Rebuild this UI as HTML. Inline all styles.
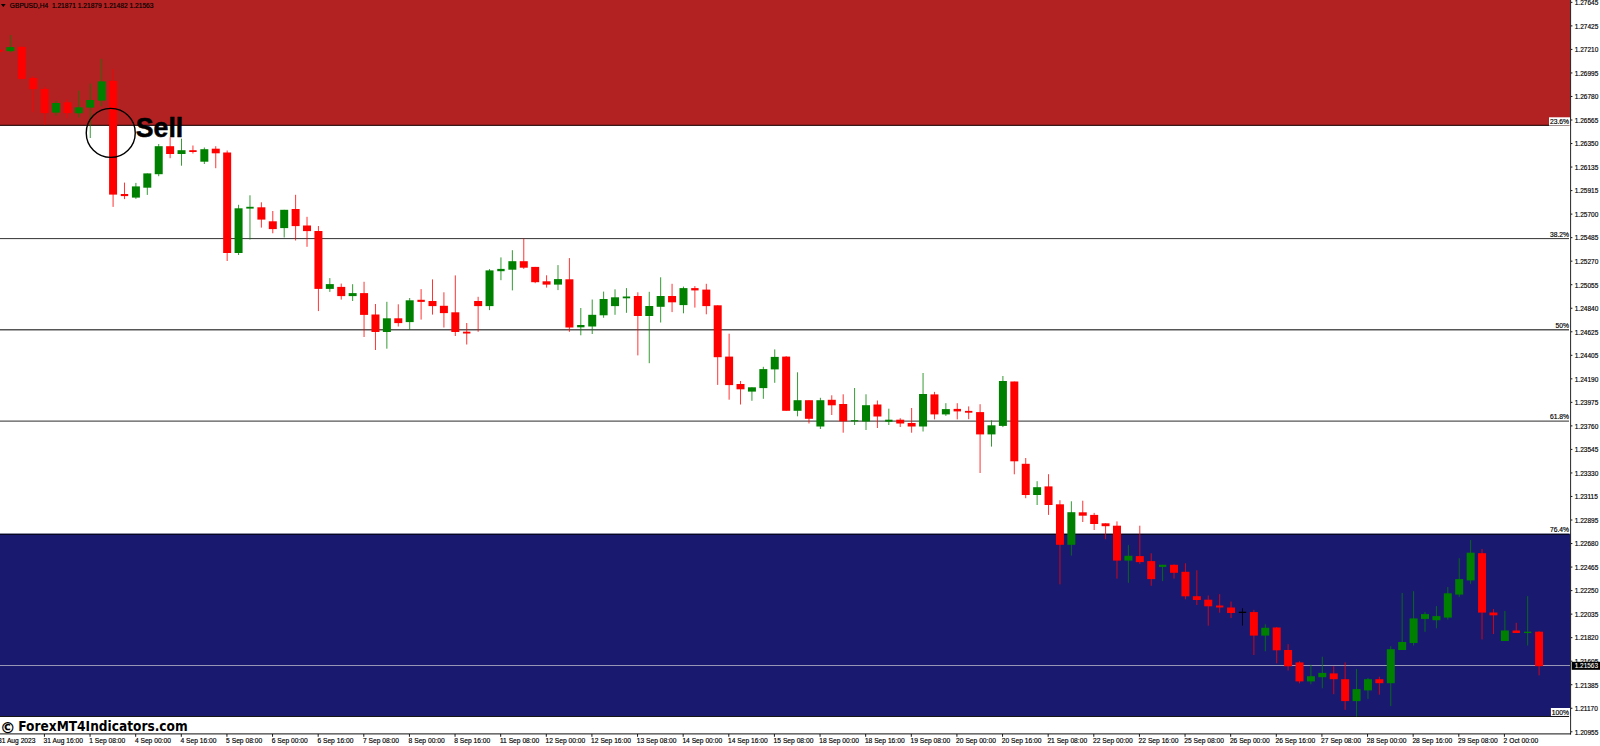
<!DOCTYPE html><html><head><meta charset="utf-8"><title>GBPUSD H4 Fibonacci Sell</title>
<style>html,body{margin:0;padding:0;background:#fff;overflow:hidden}body{width:1600px;height:746px;position:relative;font-family:"Liberation Sans",sans-serif}svg{display:block;position:absolute;left:0;top:0}text{font-family:"Liberation Sans",sans-serif}</style></head><body>
<svg width="1600" height="746" viewBox="0 0 1600 746">
<rect x="0" y="0" width="1600" height="746" fill="#fff"/>
<rect x="0" y="0" width="1570.3" height="125.7" fill="#b22222"/>
<rect x="0" y="533.7" width="1570.3" height="182.4" fill="#191970"/>
<line x1="0" y1="125.35" x2="1569" y2="125.35" stroke="#000" stroke-width="1.1" opacity="0.72"/>
<line x1="0" y1="238.6" x2="1569" y2="238.6" stroke="#000" stroke-width="1.0" opacity="0.8"/>
<line x1="0" y1="329.8" x2="1569" y2="329.8" stroke="#000" stroke-width="1.4" opacity="0.66"/>
<line x1="0" y1="421.15" x2="1569" y2="421.15" stroke="#000" stroke-width="1.4" opacity="0.66"/>
<line x1="0" y1="534.2" x2="1569" y2="534.2" stroke="#000" stroke-width="1.1" opacity="0.9"/>
<line x1="0" y1="716.45" x2="1569" y2="716.45" stroke="#000" stroke-width="1.1" opacity="0.9"/>
<line x1="0" y1="665.5" x2="1570.5" y2="665.5" stroke="#9e9eb8" stroke-width="0.95"/>
<line x1="-1.00" y1="49.7" x2="-1.00" y2="51.7" stroke="#ff0000" stroke-width="0.8"/>
<rect x="-4.70" y="49.7" width="7.4" height="2.00" fill="#ff0000"/>
<line x1="10.41" y1="35.1" x2="10.41" y2="52.4" stroke="#008000" stroke-width="0.8"/>
<rect x="6.41" y="47.1" width="8.0" height="4.10" fill="#008000"/>
<line x1="21.82" y1="46.1" x2="21.82" y2="79.5" stroke="#ff0000" stroke-width="0.8"/>
<rect x="17.82" y="46.9" width="8.0" height="32.00" fill="#ff0000"/>
<line x1="33.22" y1="76" x2="33.22" y2="112.1" stroke="#ff0000" stroke-width="0.8"/>
<rect x="29.22" y="77.9" width="8.0" height="11.30" fill="#ff0000"/>
<line x1="44.63" y1="86.9" x2="44.63" y2="124.6" stroke="#ff0000" stroke-width="0.8"/>
<rect x="40.63" y="88.9" width="8.0" height="24.20" fill="#ff0000"/>
<line x1="56.04" y1="100.8" x2="56.04" y2="115.8" stroke="#008000" stroke-width="0.8"/>
<rect x="52.04" y="103" width="8.0" height="9.60" fill="#008000"/>
<line x1="67.45" y1="99.3" x2="67.45" y2="118.1" stroke="#ff0000" stroke-width="0.8"/>
<rect x="63.45" y="102.3" width="8.0" height="10.80" fill="#ff0000"/>
<line x1="78.86" y1="90.6" x2="78.86" y2="117.6" stroke="#008000" stroke-width="0.8"/>
<rect x="74.86" y="107.3" width="8.0" height="6.00" fill="#008000"/>
<line x1="90.26" y1="83.6" x2="90.26" y2="138.0" stroke="#008000" stroke-width="0.8"/>
<rect x="86.26" y="100" width="8.0" height="7.60" fill="#008000"/>
<line x1="101.67" y1="58.7" x2="101.67" y2="106.3" stroke="#008000" stroke-width="0.8"/>
<rect x="97.67" y="81.4" width="8.0" height="19.20" fill="#008000"/>
<line x1="113.08" y1="69" x2="113.08" y2="206.9" stroke="#ff0000" stroke-width="0.8"/>
<rect x="109.08" y="80.9" width="8.0" height="113.70" fill="#ff0000"/>
<line x1="124.49" y1="182.6" x2="124.49" y2="199.1" stroke="#ff0000" stroke-width="0.8"/>
<rect x="120.79" y="194" width="7.4" height="2.10" fill="#ff0000"/>
<line x1="135.90" y1="182.9" x2="135.90" y2="198.9" stroke="#008000" stroke-width="0.8"/>
<rect x="131.90" y="186.4" width="8.0" height="11.20" fill="#008000"/>
<line x1="147.30" y1="173.4" x2="147.30" y2="194.9" stroke="#008000" stroke-width="0.8"/>
<rect x="143.30" y="173.4" width="8.0" height="14.30" fill="#008000"/>
<line x1="158.71" y1="144" x2="158.71" y2="176.2" stroke="#008000" stroke-width="0.8"/>
<rect x="154.71" y="146.2" width="8.0" height="28.00" fill="#008000"/>
<line x1="170.12" y1="137.2" x2="170.12" y2="158.2" stroke="#ff0000" stroke-width="0.8"/>
<rect x="166.12" y="146.2" width="8.0" height="7.80" fill="#ff0000"/>
<line x1="181.53" y1="138.7" x2="181.53" y2="165.7" stroke="#008000" stroke-width="0.8"/>
<rect x="177.53" y="150.2" width="8.0" height="3.80" fill="#008000"/>
<line x1="192.94" y1="145.5" x2="192.94" y2="153.5" stroke="#ff0000" stroke-width="0.8"/>
<rect x="189.24" y="150.2" width="7.4" height="1.80" fill="#ff0000"/>
<line x1="204.34" y1="147.5" x2="204.34" y2="164.0" stroke="#008000" stroke-width="0.8"/>
<rect x="200.34" y="149.2" width="8.0" height="12.50" fill="#008000"/>
<line x1="215.75" y1="146.2" x2="215.75" y2="168.2" stroke="#ff0000" stroke-width="0.8"/>
<rect x="211.75" y="148.7" width="8.0" height="4.60" fill="#ff0000"/>
<line x1="227.16" y1="150.5" x2="227.16" y2="261.0" stroke="#ff0000" stroke-width="0.8"/>
<rect x="223.16" y="152.5" width="8.0" height="100.50" fill="#ff0000"/>
<line x1="238.57" y1="204.8" x2="238.57" y2="255.0" stroke="#008000" stroke-width="0.8"/>
<rect x="234.57" y="208.3" width="8.0" height="44.70" fill="#008000"/>
<line x1="249.98" y1="195.3" x2="249.98" y2="239.5" stroke="#008000" stroke-width="0.8"/>
<rect x="246.28" y="206.8" width="7.4" height="1.80" fill="#008000"/>
<line x1="261.38" y1="202.3" x2="261.38" y2="227.6" stroke="#ff0000" stroke-width="0.8"/>
<rect x="257.38" y="207.3" width="8.0" height="12.30" fill="#ff0000"/>
<line x1="272.79" y1="211" x2="272.79" y2="233.3" stroke="#ff0000" stroke-width="0.8"/>
<rect x="268.79" y="221.3" width="8.0" height="7.80" fill="#ff0000"/>
<line x1="284.20" y1="209.8" x2="284.20" y2="237.5" stroke="#008000" stroke-width="0.8"/>
<rect x="280.20" y="209.8" width="8.0" height="18.30" fill="#008000"/>
<line x1="295.61" y1="194.8" x2="295.61" y2="240.5" stroke="#ff0000" stroke-width="0.8"/>
<rect x="291.61" y="209" width="8.0" height="17.10" fill="#ff0000"/>
<line x1="307.02" y1="216.8" x2="307.02" y2="246.8" stroke="#ff0000" stroke-width="0.8"/>
<rect x="303.02" y="225.5" width="8.0" height="5.60" fill="#ff0000"/>
<line x1="318.42" y1="226" x2="318.42" y2="311.1" stroke="#ff0000" stroke-width="0.8"/>
<rect x="314.42" y="231" width="8.0" height="57.90" fill="#ff0000"/>
<line x1="329.83" y1="278.1" x2="329.83" y2="291.9" stroke="#008000" stroke-width="0.8"/>
<rect x="325.83" y="284.1" width="8.0" height="4.80" fill="#008000"/>
<line x1="341.24" y1="283.6" x2="341.24" y2="299.6" stroke="#ff0000" stroke-width="0.8"/>
<rect x="337.24" y="286.9" width="8.0" height="9.20" fill="#ff0000"/>
<line x1="352.65" y1="284.2" x2="352.65" y2="301.0" stroke="#008000" stroke-width="0.8"/>
<rect x="348.65" y="293.1" width="8.0" height="3.00" fill="#008000"/>
<line x1="364.06" y1="281.8" x2="364.06" y2="337.0" stroke="#ff0000" stroke-width="0.8"/>
<rect x="360.06" y="293.1" width="8.0" height="21.80" fill="#ff0000"/>
<line x1="375.46" y1="304" x2="375.46" y2="350.0" stroke="#ff0000" stroke-width="0.8"/>
<rect x="371.46" y="314.5" width="8.0" height="17.50" fill="#ff0000"/>
<line x1="386.87" y1="301.8" x2="386.87" y2="348.7" stroke="#008000" stroke-width="0.8"/>
<rect x="382.87" y="318.3" width="8.0" height="13.70" fill="#008000"/>
<line x1="398.28" y1="304.3" x2="398.28" y2="326.5" stroke="#ff0000" stroke-width="0.8"/>
<rect x="394.28" y="318.3" width="8.0" height="4.80" fill="#ff0000"/>
<line x1="409.69" y1="298" x2="409.69" y2="330.0" stroke="#008000" stroke-width="0.8"/>
<rect x="405.69" y="300.3" width="8.0" height="21.80" fill="#008000"/>
<line x1="421.10" y1="289.1" x2="421.10" y2="319.6" stroke="#ff0000" stroke-width="0.8"/>
<rect x="417.40" y="299.8" width="7.4" height="2.10" fill="#ff0000"/>
<line x1="432.50" y1="279.4" x2="432.50" y2="314.6" stroke="#ff0000" stroke-width="0.8"/>
<rect x="428.50" y="301" width="8.0" height="5.10" fill="#ff0000"/>
<line x1="443.91" y1="292.3" x2="443.91" y2="327.5" stroke="#ff0000" stroke-width="0.8"/>
<rect x="439.91" y="305.8" width="8.0" height="7.30" fill="#ff0000"/>
<line x1="455.32" y1="275.4" x2="455.32" y2="336.0" stroke="#ff0000" stroke-width="0.8"/>
<rect x="451.32" y="312.3" width="8.0" height="19.70" fill="#ff0000"/>
<line x1="466.73" y1="323" x2="466.73" y2="344.5" stroke="#ff0000" stroke-width="0.8"/>
<rect x="463.03" y="331.7" width="7.4" height="1.80" fill="#ff0000"/>
<line x1="478.14" y1="296.8" x2="478.14" y2="331.8" stroke="#ff0000" stroke-width="0.8"/>
<rect x="474.14" y="301" width="8.0" height="5.10" fill="#ff0000"/>
<line x1="489.54" y1="269.1" x2="489.54" y2="310.1" stroke="#008000" stroke-width="0.8"/>
<rect x="485.54" y="270.4" width="8.0" height="35.70" fill="#008000"/>
<line x1="500.95" y1="257.4" x2="500.95" y2="280.2" stroke="#008000" stroke-width="0.8"/>
<rect x="497.25" y="268.9" width="7.4" height="2.30" fill="#008000"/>
<line x1="512.36" y1="250.2" x2="512.36" y2="290.4" stroke="#008000" stroke-width="0.8"/>
<rect x="508.36" y="261.2" width="8.0" height="8.50" fill="#008000"/>
<line x1="523.77" y1="238.5" x2="523.77" y2="268.9" stroke="#ff0000" stroke-width="0.8"/>
<rect x="519.77" y="261.2" width="8.0" height="6.50" fill="#ff0000"/>
<line x1="535.18" y1="266.9" x2="535.18" y2="283.2" stroke="#ff0000" stroke-width="0.8"/>
<rect x="531.18" y="266.9" width="8.0" height="15.30" fill="#ff0000"/>
<line x1="546.58" y1="275.3" x2="546.58" y2="287.6" stroke="#ff0000" stroke-width="0.8"/>
<rect x="542.58" y="281.3" width="8.0" height="3.30" fill="#ff0000"/>
<line x1="557.99" y1="265.1" x2="557.99" y2="290.1" stroke="#008000" stroke-width="0.8"/>
<rect x="553.99" y="279.1" width="8.0" height="5.50" fill="#008000"/>
<line x1="569.40" y1="258.1" x2="569.40" y2="331.8" stroke="#ff0000" stroke-width="0.8"/>
<rect x="565.40" y="279.3" width="8.0" height="48.20" fill="#ff0000"/>
<line x1="580.81" y1="308" x2="580.81" y2="335.3" stroke="#008000" stroke-width="0.8"/>
<rect x="577.11" y="325" width="7.4" height="2.30" fill="#008000"/>
<line x1="592.22" y1="299.5" x2="592.22" y2="334.0" stroke="#008000" stroke-width="0.8"/>
<rect x="588.22" y="314.8" width="8.0" height="11.70" fill="#008000"/>
<line x1="603.62" y1="291.6" x2="603.62" y2="317.8" stroke="#008000" stroke-width="0.8"/>
<rect x="599.62" y="299" width="8.0" height="16.30" fill="#008000"/>
<line x1="615.03" y1="289.3" x2="615.03" y2="314.8" stroke="#008000" stroke-width="0.8"/>
<rect x="611.03" y="297.3" width="8.0" height="8.80" fill="#008000"/>
<line x1="626.44" y1="288.1" x2="626.44" y2="312.8" stroke="#008000" stroke-width="0.8"/>
<rect x="622.74" y="296.5" width="7.4" height="1.80" fill="#008000"/>
<line x1="637.85" y1="292.3" x2="637.85" y2="355.4" stroke="#ff0000" stroke-width="0.8"/>
<rect x="633.85" y="296" width="8.0" height="20.00" fill="#ff0000"/>
<line x1="649.26" y1="291.8" x2="649.26" y2="363.2" stroke="#008000" stroke-width="0.8"/>
<rect x="645.26" y="306" width="8.0" height="10.00" fill="#008000"/>
<line x1="660.66" y1="277.3" x2="660.66" y2="322.5" stroke="#008000" stroke-width="0.8"/>
<rect x="656.66" y="296" width="8.0" height="10.80" fill="#008000"/>
<line x1="672.07" y1="283.8" x2="672.07" y2="312.1" stroke="#ff0000" stroke-width="0.8"/>
<rect x="668.07" y="296" width="8.0" height="6.30" fill="#ff0000"/>
<line x1="683.48" y1="286.6" x2="683.48" y2="313.3" stroke="#008000" stroke-width="0.8"/>
<rect x="679.48" y="288.1" width="8.0" height="17.00" fill="#008000"/>
<line x1="694.89" y1="286.1" x2="694.89" y2="307.6" stroke="#ff0000" stroke-width="0.8"/>
<rect x="691.19" y="288.1" width="7.4" height="2.30" fill="#ff0000"/>
<line x1="706.30" y1="283.8" x2="706.30" y2="314.3" stroke="#ff0000" stroke-width="0.8"/>
<rect x="702.30" y="289.6" width="8.0" height="16.50" fill="#ff0000"/>
<line x1="717.70" y1="305.3" x2="717.70" y2="384.9" stroke="#ff0000" stroke-width="0.8"/>
<rect x="713.70" y="305.3" width="8.0" height="51.90" fill="#ff0000"/>
<line x1="729.11" y1="333.7" x2="729.11" y2="399.7" stroke="#ff0000" stroke-width="0.8"/>
<rect x="725.11" y="356.6" width="8.0" height="28.50" fill="#ff0000"/>
<line x1="740.52" y1="381" x2="740.52" y2="404.5" stroke="#ff0000" stroke-width="0.8"/>
<rect x="736.52" y="384" width="8.0" height="5.30" fill="#ff0000"/>
<line x1="751.93" y1="387.3" x2="751.93" y2="400.8" stroke="#008000" stroke-width="0.8"/>
<rect x="747.93" y="387.3" width="8.0" height="4.30" fill="#008000"/>
<line x1="763.34" y1="366.8" x2="763.34" y2="398.8" stroke="#008000" stroke-width="0.8"/>
<rect x="759.34" y="369.1" width="8.0" height="19.00" fill="#008000"/>
<line x1="774.74" y1="349.4" x2="774.74" y2="382.8" stroke="#008000" stroke-width="0.8"/>
<rect x="770.74" y="356.9" width="8.0" height="12.50" fill="#008000"/>
<line x1="786.15" y1="356.1" x2="786.15" y2="410.8" stroke="#ff0000" stroke-width="0.8"/>
<rect x="782.15" y="356.6" width="8.0" height="54.20" fill="#ff0000"/>
<line x1="797.56" y1="372.3" x2="797.56" y2="416.3" stroke="#008000" stroke-width="0.8"/>
<rect x="793.56" y="400.2" width="8.0" height="10.60" fill="#008000"/>
<line x1="808.97" y1="400.2" x2="808.97" y2="423.5" stroke="#ff0000" stroke-width="0.8"/>
<rect x="804.97" y="400.2" width="8.0" height="18.60" fill="#ff0000"/>
<line x1="820.38" y1="397.8" x2="820.38" y2="429.0" stroke="#008000" stroke-width="0.8"/>
<rect x="816.38" y="400.2" width="8.0" height="26.30" fill="#008000"/>
<line x1="831.78" y1="395.3" x2="831.78" y2="415.0" stroke="#ff0000" stroke-width="0.8"/>
<rect x="827.78" y="399.8" width="8.0" height="5.50" fill="#ff0000"/>
<line x1="843.19" y1="394.3" x2="843.19" y2="432.7" stroke="#ff0000" stroke-width="0.8"/>
<rect x="839.19" y="404" width="8.0" height="17.30" fill="#ff0000"/>
<line x1="854.60" y1="388" x2="854.60" y2="425.0" stroke="#008000" stroke-width="0.8"/>
<rect x="850.90" y="420.2" width="7.4" height="1.20" fill="#008000"/>
<line x1="866.01" y1="394.3" x2="866.01" y2="430.0" stroke="#008000" stroke-width="0.8"/>
<rect x="862.01" y="405.2" width="8.0" height="16.30" fill="#008000"/>
<line x1="877.42" y1="400.5" x2="877.42" y2="428.0" stroke="#ff0000" stroke-width="0.8"/>
<rect x="873.42" y="404.5" width="8.0" height="12.00" fill="#ff0000"/>
<line x1="888.82" y1="408.7" x2="888.82" y2="425.0" stroke="#008000" stroke-width="0.8"/>
<rect x="885.12" y="419.7" width="7.4" height="2.00" fill="#008000"/>
<line x1="900.23" y1="418.2" x2="900.23" y2="427.0" stroke="#ff0000" stroke-width="0.8"/>
<rect x="896.23" y="419.7" width="8.0" height="3.80" fill="#ff0000"/>
<line x1="911.64" y1="408" x2="911.64" y2="432.7" stroke="#ff0000" stroke-width="0.8"/>
<rect x="907.64" y="423" width="8.0" height="3.50" fill="#ff0000"/>
<line x1="923.05" y1="373" x2="923.05" y2="431.5" stroke="#008000" stroke-width="0.8"/>
<rect x="919.05" y="394" width="8.0" height="32.50" fill="#008000"/>
<line x1="934.46" y1="391.9" x2="934.46" y2="419.4" stroke="#ff0000" stroke-width="0.8"/>
<rect x="930.46" y="394.4" width="8.0" height="20.00" fill="#ff0000"/>
<line x1="945.86" y1="403.2" x2="945.86" y2="415.9" stroke="#008000" stroke-width="0.8"/>
<rect x="941.86" y="409.1" width="8.0" height="5.30" fill="#008000"/>
<line x1="957.27" y1="403.2" x2="957.27" y2="419.4" stroke="#ff0000" stroke-width="0.8"/>
<rect x="953.57" y="408.9" width="7.4" height="2.50" fill="#ff0000"/>
<line x1="968.68" y1="406.4" x2="968.68" y2="419.2" stroke="#ff0000" stroke-width="0.8"/>
<rect x="964.98" y="410.9" width="7.4" height="1.80" fill="#ff0000"/>
<line x1="980.09" y1="404.2" x2="980.09" y2="473.0" stroke="#ff0000" stroke-width="0.8"/>
<rect x="976.09" y="412.1" width="8.0" height="22.30" fill="#ff0000"/>
<line x1="991.50" y1="420.4" x2="991.50" y2="446.6" stroke="#008000" stroke-width="0.8"/>
<rect x="987.50" y="425.3" width="8.0" height="9.10" fill="#008000"/>
<line x1="1002.90" y1="376" x2="1002.90" y2="427.1" stroke="#008000" stroke-width="0.8"/>
<rect x="998.90" y="381" width="8.0" height="44.90" fill="#008000"/>
<line x1="1014.31" y1="381.5" x2="1014.31" y2="474.3" stroke="#ff0000" stroke-width="0.8"/>
<rect x="1010.31" y="381.5" width="8.0" height="79.80" fill="#ff0000"/>
<line x1="1025.72" y1="458" x2="1025.72" y2="498.2" stroke="#ff0000" stroke-width="0.8"/>
<rect x="1021.72" y="463.8" width="8.0" height="31.20" fill="#ff0000"/>
<line x1="1037.13" y1="481.2" x2="1037.13" y2="505.0" stroke="#008000" stroke-width="0.8"/>
<rect x="1033.13" y="487.2" width="8.0" height="7.80" fill="#008000"/>
<line x1="1048.54" y1="474.2" x2="1048.54" y2="514.9" stroke="#ff0000" stroke-width="0.8"/>
<rect x="1044.54" y="486.4" width="8.0" height="18.60" fill="#ff0000"/>
<line x1="1059.94" y1="500.2" x2="1059.94" y2="584.3" stroke="#ff0000" stroke-width="0.8"/>
<rect x="1055.94" y="504.3" width="8.0" height="40.50" fill="#ff0000"/>
<line x1="1071.35" y1="501.3" x2="1071.35" y2="555.6" stroke="#008000" stroke-width="0.8"/>
<rect x="1067.35" y="512.2" width="8.0" height="32.60" fill="#008000"/>
<line x1="1082.76" y1="500.7" x2="1082.76" y2="522.0" stroke="#ff0000" stroke-width="0.8"/>
<rect x="1078.76" y="512.3" width="8.0" height="3.40" fill="#ff0000"/>
<line x1="1094.17" y1="512.9" x2="1094.17" y2="530.0" stroke="#ff0000" stroke-width="0.8"/>
<rect x="1090.17" y="514.9" width="8.0" height="9.10" fill="#ff0000"/>
<line x1="1105.58" y1="523.3" x2="1105.58" y2="539.2" stroke="#ff0000" stroke-width="0.8"/>
<rect x="1101.58" y="523.3" width="8.0" height="2.90" fill="#ff0000"/>
<line x1="1116.98" y1="521.4" x2="1116.98" y2="578.6" stroke="#ff0000" stroke-width="0.8"/>
<rect x="1112.98" y="525.7" width="8.0" height="34.90" fill="#ff0000"/>
<line x1="1128.39" y1="545.1" x2="1128.39" y2="582.8" stroke="#008000" stroke-width="0.8"/>
<rect x="1124.39" y="555.8" width="8.0" height="4.80" fill="#008000"/>
<line x1="1139.80" y1="525.7" x2="1139.80" y2="563.9" stroke="#ff0000" stroke-width="0.8"/>
<rect x="1135.80" y="556.1" width="8.0" height="6.00" fill="#ff0000"/>
<line x1="1151.21" y1="553.3" x2="1151.21" y2="585.8" stroke="#ff0000" stroke-width="0.8"/>
<rect x="1147.21" y="561.1" width="8.0" height="18.00" fill="#ff0000"/>
<line x1="1162.62" y1="564.8" x2="1162.62" y2="581.1" stroke="#008000" stroke-width="0.8"/>
<rect x="1158.92" y="564.8" width="7.4" height="2.10" fill="#008000"/>
<line x1="1174.02" y1="564.3" x2="1174.02" y2="578.6" stroke="#ff0000" stroke-width="0.8"/>
<rect x="1170.02" y="564.8" width="8.0" height="8.00" fill="#ff0000"/>
<line x1="1185.43" y1="563.3" x2="1185.43" y2="599.3" stroke="#ff0000" stroke-width="0.8"/>
<rect x="1181.43" y="571.8" width="8.0" height="24.50" fill="#ff0000"/>
<line x1="1196.84" y1="570.3" x2="1196.84" y2="605.0" stroke="#ff0000" stroke-width="0.8"/>
<rect x="1192.84" y="596.2" width="8.0" height="3.80" fill="#ff0000"/>
<line x1="1208.25" y1="595.5" x2="1208.25" y2="625.7" stroke="#ff0000" stroke-width="0.8"/>
<rect x="1204.25" y="599.7" width="8.0" height="6.60" fill="#ff0000"/>
<line x1="1219.66" y1="594.2" x2="1219.66" y2="612.7" stroke="#ff0000" stroke-width="0.8"/>
<rect x="1215.96" y="605.5" width="7.4" height="2.00" fill="#ff0000"/>
<line x1="1231.06" y1="601.5" x2="1231.06" y2="618.0" stroke="#ff0000" stroke-width="0.8"/>
<rect x="1227.06" y="607.5" width="8.0" height="5.50" fill="#ff0000"/>
<line x1="1242.47" y1="608.2" x2="1242.47" y2="625.7" stroke="#000" stroke-width="0.8"/>
<rect x="1238.77" y="611.7" width="7.4" height="1.30" fill="#000"/>
<line x1="1253.88" y1="609.8" x2="1253.88" y2="655.0" stroke="#ff0000" stroke-width="0.8"/>
<rect x="1249.88" y="612.1" width="8.0" height="23.50" fill="#ff0000"/>
<line x1="1265.29" y1="624.3" x2="1265.29" y2="651.3" stroke="#008000" stroke-width="0.8"/>
<rect x="1261.29" y="627.8" width="8.0" height="7.80" fill="#008000"/>
<line x1="1276.70" y1="627" x2="1276.70" y2="663.3" stroke="#ff0000" stroke-width="0.8"/>
<rect x="1272.70" y="627.5" width="8.0" height="22.80" fill="#ff0000"/>
<line x1="1288.10" y1="644.2" x2="1288.10" y2="670.5" stroke="#ff0000" stroke-width="0.8"/>
<rect x="1284.10" y="650" width="8.0" height="16.30" fill="#ff0000"/>
<line x1="1299.51" y1="661.2" x2="1299.51" y2="683.4" stroke="#ff0000" stroke-width="0.8"/>
<rect x="1295.51" y="662.4" width="8.0" height="19.00" fill="#ff0000"/>
<line x1="1310.92" y1="664.7" x2="1310.92" y2="684.2" stroke="#008000" stroke-width="0.8"/>
<rect x="1306.92" y="676.2" width="8.0" height="5.20" fill="#008000"/>
<line x1="1322.33" y1="656.7" x2="1322.33" y2="688.2" stroke="#008000" stroke-width="0.8"/>
<rect x="1318.33" y="672.9" width="8.0" height="4.30" fill="#008000"/>
<line x1="1333.74" y1="666.2" x2="1333.74" y2="694.2" stroke="#ff0000" stroke-width="0.8"/>
<rect x="1329.74" y="673.4" width="8.0" height="5.80" fill="#ff0000"/>
<line x1="1345.14" y1="662.4" x2="1345.14" y2="709.9" stroke="#ff0000" stroke-width="0.8"/>
<rect x="1341.14" y="679.2" width="8.0" height="21.90" fill="#ff0000"/>
<line x1="1356.55" y1="668.9" x2="1356.55" y2="716.6" stroke="#008000" stroke-width="0.8"/>
<rect x="1352.55" y="689.1" width="8.0" height="12.00" fill="#008000"/>
<line x1="1367.96" y1="677.9" x2="1367.96" y2="698.9" stroke="#008000" stroke-width="0.8"/>
<rect x="1363.96" y="679.2" width="8.0" height="11.20" fill="#008000"/>
<line x1="1379.37" y1="676.7" x2="1379.37" y2="694.7" stroke="#ff0000" stroke-width="0.8"/>
<rect x="1375.37" y="679.2" width="8.0" height="4.00" fill="#ff0000"/>
<line x1="1390.78" y1="646.2" x2="1390.78" y2="706.1" stroke="#008000" stroke-width="0.8"/>
<rect x="1386.78" y="649.2" width="8.0" height="34.00" fill="#008000"/>
<line x1="1402.18" y1="592.9" x2="1402.18" y2="650.0" stroke="#008000" stroke-width="0.8"/>
<rect x="1398.18" y="642" width="8.0" height="8.00" fill="#008000"/>
<line x1="1413.59" y1="591.2" x2="1413.59" y2="645.5" stroke="#008000" stroke-width="0.8"/>
<rect x="1409.59" y="618.4" width="8.0" height="24.60" fill="#008000"/>
<line x1="1425.00" y1="612" x2="1425.00" y2="631.9" stroke="#008000" stroke-width="0.8"/>
<rect x="1421.00" y="614.1" width="8.0" height="4.80" fill="#008000"/>
<line x1="1436.41" y1="606.1" x2="1436.41" y2="628.3" stroke="#008000" stroke-width="0.8"/>
<rect x="1432.41" y="616.1" width="8.0" height="4.10" fill="#008000"/>
<line x1="1447.82" y1="586.9" x2="1447.82" y2="619.6" stroke="#008000" stroke-width="0.8"/>
<rect x="1443.82" y="593.3" width="8.0" height="24.30" fill="#008000"/>
<line x1="1459.22" y1="558.2" x2="1459.22" y2="596.9" stroke="#008000" stroke-width="0.8"/>
<rect x="1455.22" y="579.1" width="8.0" height="15.50" fill="#008000"/>
<line x1="1470.63" y1="540" x2="1470.63" y2="583.9" stroke="#008000" stroke-width="0.8"/>
<rect x="1466.63" y="552.7" width="8.0" height="27.70" fill="#008000"/>
<line x1="1482.04" y1="549" x2="1482.04" y2="639.5" stroke="#ff0000" stroke-width="0.8"/>
<rect x="1478.04" y="553.2" width="8.0" height="59.40" fill="#ff0000"/>
<line x1="1493.45" y1="609" x2="1493.45" y2="634.0" stroke="#ff0000" stroke-width="0.8"/>
<rect x="1489.45" y="612.5" width="8.0" height="2.80" fill="#ff0000"/>
<line x1="1504.86" y1="611" x2="1504.86" y2="641.0" stroke="#008000" stroke-width="0.8"/>
<rect x="1500.86" y="630.5" width="8.0" height="10.50" fill="#008000"/>
<line x1="1516.26" y1="622.8" x2="1516.26" y2="633.0" stroke="#ff0000" stroke-width="0.8"/>
<rect x="1512.56" y="630.5" width="7.4" height="2.50" fill="#ff0000"/>
<line x1="1527.67" y1="596.1" x2="1527.67" y2="645.5" stroke="#008000" stroke-width="0.8"/>
<rect x="1523.97" y="631.7" width="7.4" height="1.30" fill="#008000"/>
<line x1="1539.08" y1="631.2" x2="1539.08" y2="675.4" stroke="#ff0000" stroke-width="0.8"/>
<rect x="1535.08" y="631.7" width="8.0" height="34.50" fill="#ff0000"/>
<circle cx="110.75" cy="132.9" r="24.5" fill="none" stroke="#000" stroke-width="1.4"/>
<text x="135.8" y="136.6" font-size="27.8" font-weight="bold" fill="#000" stroke="#000" stroke-width="0.55" textLength="47.4" lengthAdjust="spacingAndGlyphs">Sell</text>
<line x1="1570.6" y1="0" x2="1570.6" y2="734.5" stroke="#000" stroke-width="1" opacity="0.85"/>
<line x1="0" y1="733.95" x2="1571" y2="733.95" stroke="#000" stroke-width="1.2" opacity="0.75"/>
<rect x="1549.00" y="117.3" width="21.00" height="8.20" fill="#fff"/>
<text transform="translate(1569.10 123.80) scale(0.9 1)" font-size="7.5" fill="#000" stroke="#000" stroke-width="0.18" text-anchor="end">23.6%</text>
<text transform="translate(1569.10 236.80) scale(0.9 1)" font-size="7.5" fill="#000" stroke="#000" stroke-width="0.18" text-anchor="end">38.2%</text>
<text transform="translate(1569.10 328.05) scale(0.9 1)" font-size="7.5" fill="#000" stroke="#000" stroke-width="0.18" text-anchor="end">50%</text>
<text transform="translate(1569.10 419.30) scale(0.9 1)" font-size="7.5" fill="#000" stroke="#000" stroke-width="0.18" text-anchor="end">61.8%</text>
<text transform="translate(1569.10 531.90) scale(0.9 1)" font-size="7.5" fill="#000" stroke="#000" stroke-width="0.18" text-anchor="end">76.4%</text>
<rect x="1550.90" y="708.0" width="19.10" height="7.95" fill="#fff"/>
<text transform="translate(1569.10 714.70) scale(0.9 1)" font-size="7.5" fill="#000" stroke="#000" stroke-width="0.18" text-anchor="end">100%</text>
<line x1="1571" y1="2.35" x2="1572.4" y2="2.35" stroke="#000" stroke-width="0.9"/>
<text transform="translate(1574.70 5.15) scale(0.872 1)" font-size="7.5" fill="#000" stroke="#000" stroke-width="0.18" >1.27645</text>
<line x1="1571" y1="25.88" x2="1572.4" y2="25.88" stroke="#000" stroke-width="0.9"/>
<text transform="translate(1574.70 28.68) scale(0.872 1)" font-size="7.5" fill="#000" stroke="#000" stroke-width="0.18" >1.27425</text>
<line x1="1571" y1="49.41" x2="1572.4" y2="49.41" stroke="#000" stroke-width="0.9"/>
<text transform="translate(1574.70 52.21) scale(0.872 1)" font-size="7.5" fill="#000" stroke="#000" stroke-width="0.18" >1.27210</text>
<line x1="1571" y1="72.94" x2="1572.4" y2="72.94" stroke="#000" stroke-width="0.9"/>
<text transform="translate(1574.70 75.74) scale(0.872 1)" font-size="7.5" fill="#000" stroke="#000" stroke-width="0.18" >1.26995</text>
<line x1="1571" y1="96.47" x2="1572.4" y2="96.47" stroke="#000" stroke-width="0.9"/>
<text transform="translate(1574.70 99.27) scale(0.872 1)" font-size="7.5" fill="#000" stroke="#000" stroke-width="0.18" >1.26780</text>
<line x1="1571" y1="120.00" x2="1572.4" y2="120.00" stroke="#000" stroke-width="0.9"/>
<text transform="translate(1574.70 122.80) scale(0.872 1)" font-size="7.5" fill="#000" stroke="#000" stroke-width="0.18" >1.26565</text>
<line x1="1571" y1="143.53" x2="1572.4" y2="143.53" stroke="#000" stroke-width="0.9"/>
<text transform="translate(1574.70 146.33) scale(0.872 1)" font-size="7.5" fill="#000" stroke="#000" stroke-width="0.18" >1.26350</text>
<line x1="1571" y1="167.06" x2="1572.4" y2="167.06" stroke="#000" stroke-width="0.9"/>
<text transform="translate(1574.70 169.86) scale(0.872 1)" font-size="7.5" fill="#000" stroke="#000" stroke-width="0.18" >1.26135</text>
<line x1="1571" y1="190.59" x2="1572.4" y2="190.59" stroke="#000" stroke-width="0.9"/>
<text transform="translate(1574.70 193.39) scale(0.872 1)" font-size="7.5" fill="#000" stroke="#000" stroke-width="0.18" >1.25915</text>
<line x1="1571" y1="214.12" x2="1572.4" y2="214.12" stroke="#000" stroke-width="0.9"/>
<text transform="translate(1574.70 216.92) scale(0.872 1)" font-size="7.5" fill="#000" stroke="#000" stroke-width="0.18" >1.25700</text>
<line x1="1571" y1="237.65" x2="1572.4" y2="237.65" stroke="#000" stroke-width="0.9"/>
<text transform="translate(1574.70 240.45) scale(0.872 1)" font-size="7.5" fill="#000" stroke="#000" stroke-width="0.18" >1.25485</text>
<line x1="1571" y1="261.18" x2="1572.4" y2="261.18" stroke="#000" stroke-width="0.9"/>
<text transform="translate(1574.70 263.98) scale(0.872 1)" font-size="7.5" fill="#000" stroke="#000" stroke-width="0.18" >1.25270</text>
<line x1="1571" y1="284.71" x2="1572.4" y2="284.71" stroke="#000" stroke-width="0.9"/>
<text transform="translate(1574.70 287.51) scale(0.872 1)" font-size="7.5" fill="#000" stroke="#000" stroke-width="0.18" >1.25055</text>
<line x1="1571" y1="308.24" x2="1572.4" y2="308.24" stroke="#000" stroke-width="0.9"/>
<text transform="translate(1574.70 311.04) scale(0.872 1)" font-size="7.5" fill="#000" stroke="#000" stroke-width="0.18" >1.24840</text>
<line x1="1571" y1="331.77" x2="1572.4" y2="331.77" stroke="#000" stroke-width="0.9"/>
<text transform="translate(1574.70 334.57) scale(0.872 1)" font-size="7.5" fill="#000" stroke="#000" stroke-width="0.18" >1.24625</text>
<line x1="1571" y1="355.30" x2="1572.4" y2="355.30" stroke="#000" stroke-width="0.9"/>
<text transform="translate(1574.70 358.10) scale(0.872 1)" font-size="7.5" fill="#000" stroke="#000" stroke-width="0.18" >1.24405</text>
<line x1="1571" y1="378.83" x2="1572.4" y2="378.83" stroke="#000" stroke-width="0.9"/>
<text transform="translate(1574.70 381.63) scale(0.872 1)" font-size="7.5" fill="#000" stroke="#000" stroke-width="0.18" >1.24190</text>
<line x1="1571" y1="402.36" x2="1572.4" y2="402.36" stroke="#000" stroke-width="0.9"/>
<text transform="translate(1574.70 405.16) scale(0.872 1)" font-size="7.5" fill="#000" stroke="#000" stroke-width="0.18" >1.23975</text>
<line x1="1571" y1="425.89" x2="1572.4" y2="425.89" stroke="#000" stroke-width="0.9"/>
<text transform="translate(1574.70 428.69) scale(0.872 1)" font-size="7.5" fill="#000" stroke="#000" stroke-width="0.18" >1.23760</text>
<line x1="1571" y1="449.42" x2="1572.4" y2="449.42" stroke="#000" stroke-width="0.9"/>
<text transform="translate(1574.70 452.22) scale(0.872 1)" font-size="7.5" fill="#000" stroke="#000" stroke-width="0.18" >1.23545</text>
<line x1="1571" y1="472.95" x2="1572.4" y2="472.95" stroke="#000" stroke-width="0.9"/>
<text transform="translate(1574.70 475.75) scale(0.872 1)" font-size="7.5" fill="#000" stroke="#000" stroke-width="0.18" >1.23330</text>
<line x1="1571" y1="496.48" x2="1572.4" y2="496.48" stroke="#000" stroke-width="0.9"/>
<text transform="translate(1574.70 499.28) scale(0.872 1)" font-size="7.5" fill="#000" stroke="#000" stroke-width="0.18" >1.23115</text>
<line x1="1571" y1="520.01" x2="1572.4" y2="520.01" stroke="#000" stroke-width="0.9"/>
<text transform="translate(1574.70 522.81) scale(0.872 1)" font-size="7.5" fill="#000" stroke="#000" stroke-width="0.18" >1.22895</text>
<line x1="1571" y1="543.54" x2="1572.4" y2="543.54" stroke="#000" stroke-width="0.9"/>
<text transform="translate(1574.70 546.34) scale(0.872 1)" font-size="7.5" fill="#000" stroke="#000" stroke-width="0.18" >1.22680</text>
<line x1="1571" y1="567.07" x2="1572.4" y2="567.07" stroke="#000" stroke-width="0.9"/>
<text transform="translate(1574.70 569.87) scale(0.872 1)" font-size="7.5" fill="#000" stroke="#000" stroke-width="0.18" >1.22465</text>
<line x1="1571" y1="590.60" x2="1572.4" y2="590.60" stroke="#000" stroke-width="0.9"/>
<text transform="translate(1574.70 593.40) scale(0.872 1)" font-size="7.5" fill="#000" stroke="#000" stroke-width="0.18" >1.22250</text>
<line x1="1571" y1="614.13" x2="1572.4" y2="614.13" stroke="#000" stroke-width="0.9"/>
<text transform="translate(1574.70 616.93) scale(0.872 1)" font-size="7.5" fill="#000" stroke="#000" stroke-width="0.18" >1.22035</text>
<line x1="1571" y1="637.66" x2="1572.4" y2="637.66" stroke="#000" stroke-width="0.9"/>
<text transform="translate(1574.70 640.46) scale(0.872 1)" font-size="7.5" fill="#000" stroke="#000" stroke-width="0.18" >1.21820</text>
<line x1="1571" y1="661.19" x2="1572.4" y2="661.19" stroke="#000" stroke-width="0.9"/>
<text transform="translate(1574.70 663.99) scale(0.872 1)" font-size="7.5" fill="#000" stroke="#000" stroke-width="0.18" >1.21605</text>
<line x1="1571" y1="684.72" x2="1572.4" y2="684.72" stroke="#000" stroke-width="0.9"/>
<text transform="translate(1574.70 687.52) scale(0.872 1)" font-size="7.5" fill="#000" stroke="#000" stroke-width="0.18" >1.21385</text>
<line x1="1571" y1="708.25" x2="1572.4" y2="708.25" stroke="#000" stroke-width="0.9"/>
<text transform="translate(1574.70 711.05) scale(0.872 1)" font-size="7.5" fill="#000" stroke="#000" stroke-width="0.18" >1.21170</text>
<line x1="1571" y1="731.78" x2="1572.4" y2="731.78" stroke="#000" stroke-width="0.9"/>
<text transform="translate(1574.70 734.58) scale(0.872 1)" font-size="7.5" fill="#000" stroke="#000" stroke-width="0.18" >1.20955</text>
<rect x="1571.7" y="661.8" width="28.3" height="8" fill="#000"/>
<text transform="translate(1574.70 668.20) scale(0.872 1)" font-size="7.4" fill="#fff" stroke="#fff" stroke-width="0.1" >1.21563</text>
<line x1="-1.20" y1="734" x2="-1.20" y2="736.8" stroke="#000" stroke-width="0.9"/>
<text transform="translate(-2.00 743.00) scale(0.892 1)" font-size="7.5" fill="#000" stroke="#000" stroke-width="0.18" >31 Aug 2023</text>
<line x1="44.42" y1="734" x2="44.42" y2="736.8" stroke="#000" stroke-width="0.9"/>
<text transform="translate(43.62 743.00) scale(0.892 1)" font-size="7.5" fill="#000" stroke="#000" stroke-width="0.18" >31 Aug 16:00</text>
<line x1="90.05" y1="734" x2="90.05" y2="736.8" stroke="#000" stroke-width="0.9"/>
<text transform="translate(89.25 743.00) scale(0.892 1)" font-size="7.5" fill="#000" stroke="#000" stroke-width="0.18" >1 Sep 08:00</text>
<line x1="135.68" y1="734" x2="135.68" y2="736.8" stroke="#000" stroke-width="0.9"/>
<text transform="translate(134.88 743.00) scale(0.892 1)" font-size="7.5" fill="#000" stroke="#000" stroke-width="0.18" >4 Sep 00:00</text>
<line x1="181.30" y1="734" x2="181.30" y2="736.8" stroke="#000" stroke-width="0.9"/>
<text transform="translate(180.50 743.00) scale(0.892 1)" font-size="7.5" fill="#000" stroke="#000" stroke-width="0.18" >4 Sep 16:00</text>
<line x1="226.93" y1="734" x2="226.93" y2="736.8" stroke="#000" stroke-width="0.9"/>
<text transform="translate(226.12 743.00) scale(0.892 1)" font-size="7.5" fill="#000" stroke="#000" stroke-width="0.18" >5 Sep 08:00</text>
<line x1="272.55" y1="734" x2="272.55" y2="736.8" stroke="#000" stroke-width="0.9"/>
<text transform="translate(271.75 743.00) scale(0.892 1)" font-size="7.5" fill="#000" stroke="#000" stroke-width="0.18" >6 Sep 00:00</text>
<line x1="318.18" y1="734" x2="318.18" y2="736.8" stroke="#000" stroke-width="0.9"/>
<text transform="translate(317.38 743.00) scale(0.892 1)" font-size="7.5" fill="#000" stroke="#000" stroke-width="0.18" >6 Sep 16:00</text>
<line x1="363.80" y1="734" x2="363.80" y2="736.8" stroke="#000" stroke-width="0.9"/>
<text transform="translate(363.00 743.00) scale(0.892 1)" font-size="7.5" fill="#000" stroke="#000" stroke-width="0.18" >7 Sep 08:00</text>
<line x1="409.43" y1="734" x2="409.43" y2="736.8" stroke="#000" stroke-width="0.9"/>
<text transform="translate(408.62 743.00) scale(0.892 1)" font-size="7.5" fill="#000" stroke="#000" stroke-width="0.18" >8 Sep 00:00</text>
<line x1="455.05" y1="734" x2="455.05" y2="736.8" stroke="#000" stroke-width="0.9"/>
<text transform="translate(454.25 743.00) scale(0.892 1)" font-size="7.5" fill="#000" stroke="#000" stroke-width="0.18" >8 Sep 16:00</text>
<line x1="500.68" y1="734" x2="500.68" y2="736.8" stroke="#000" stroke-width="0.9"/>
<text transform="translate(499.88 743.00) scale(0.892 1)" font-size="7.5" fill="#000" stroke="#000" stroke-width="0.18" >11 Sep 08:00</text>
<line x1="546.30" y1="734" x2="546.30" y2="736.8" stroke="#000" stroke-width="0.9"/>
<text transform="translate(545.50 743.00) scale(0.892 1)" font-size="7.5" fill="#000" stroke="#000" stroke-width="0.18" >12 Sep 00:00</text>
<line x1="591.92" y1="734" x2="591.92" y2="736.8" stroke="#000" stroke-width="0.9"/>
<text transform="translate(591.12 743.00) scale(0.892 1)" font-size="7.5" fill="#000" stroke="#000" stroke-width="0.18" >12 Sep 16:00</text>
<line x1="637.55" y1="734" x2="637.55" y2="736.8" stroke="#000" stroke-width="0.9"/>
<text transform="translate(636.75 743.00) scale(0.892 1)" font-size="7.5" fill="#000" stroke="#000" stroke-width="0.18" >13 Sep 08:00</text>
<line x1="683.17" y1="734" x2="683.17" y2="736.8" stroke="#000" stroke-width="0.9"/>
<text transform="translate(682.38 743.00) scale(0.892 1)" font-size="7.5" fill="#000" stroke="#000" stroke-width="0.18" >14 Sep 00:00</text>
<line x1="728.80" y1="734" x2="728.80" y2="736.8" stroke="#000" stroke-width="0.9"/>
<text transform="translate(728.00 743.00) scale(0.892 1)" font-size="7.5" fill="#000" stroke="#000" stroke-width="0.18" >14 Sep 16:00</text>
<line x1="774.42" y1="734" x2="774.42" y2="736.8" stroke="#000" stroke-width="0.9"/>
<text transform="translate(773.62 743.00) scale(0.892 1)" font-size="7.5" fill="#000" stroke="#000" stroke-width="0.18" >15 Sep 08:00</text>
<line x1="820.05" y1="734" x2="820.05" y2="736.8" stroke="#000" stroke-width="0.9"/>
<text transform="translate(819.25 743.00) scale(0.892 1)" font-size="7.5" fill="#000" stroke="#000" stroke-width="0.18" >18 Sep 00:00</text>
<line x1="865.67" y1="734" x2="865.67" y2="736.8" stroke="#000" stroke-width="0.9"/>
<text transform="translate(864.88 743.00) scale(0.892 1)" font-size="7.5" fill="#000" stroke="#000" stroke-width="0.18" >18 Sep 16:00</text>
<line x1="911.30" y1="734" x2="911.30" y2="736.8" stroke="#000" stroke-width="0.9"/>
<text transform="translate(910.50 743.00) scale(0.892 1)" font-size="7.5" fill="#000" stroke="#000" stroke-width="0.18" >19 Sep 08:00</text>
<line x1="956.92" y1="734" x2="956.92" y2="736.8" stroke="#000" stroke-width="0.9"/>
<text transform="translate(956.12 743.00) scale(0.892 1)" font-size="7.5" fill="#000" stroke="#000" stroke-width="0.18" >20 Sep 00:00</text>
<line x1="1002.55" y1="734" x2="1002.55" y2="736.8" stroke="#000" stroke-width="0.9"/>
<text transform="translate(1001.75 743.00) scale(0.892 1)" font-size="7.5" fill="#000" stroke="#000" stroke-width="0.18" >20 Sep 16:00</text>
<line x1="1048.17" y1="734" x2="1048.17" y2="736.8" stroke="#000" stroke-width="0.9"/>
<text transform="translate(1047.38 743.00) scale(0.892 1)" font-size="7.5" fill="#000" stroke="#000" stroke-width="0.18" >21 Sep 08:00</text>
<line x1="1093.80" y1="734" x2="1093.80" y2="736.8" stroke="#000" stroke-width="0.9"/>
<text transform="translate(1093.00 743.00) scale(0.892 1)" font-size="7.5" fill="#000" stroke="#000" stroke-width="0.18" >22 Sep 00:00</text>
<line x1="1139.42" y1="734" x2="1139.42" y2="736.8" stroke="#000" stroke-width="0.9"/>
<text transform="translate(1138.62 743.00) scale(0.892 1)" font-size="7.5" fill="#000" stroke="#000" stroke-width="0.18" >22 Sep 16:00</text>
<line x1="1185.05" y1="734" x2="1185.05" y2="736.8" stroke="#000" stroke-width="0.9"/>
<text transform="translate(1184.25 743.00) scale(0.892 1)" font-size="7.5" fill="#000" stroke="#000" stroke-width="0.18" >25 Sep 08:00</text>
<line x1="1230.67" y1="734" x2="1230.67" y2="736.8" stroke="#000" stroke-width="0.9"/>
<text transform="translate(1229.88 743.00) scale(0.892 1)" font-size="7.5" fill="#000" stroke="#000" stroke-width="0.18" >26 Sep 00:00</text>
<line x1="1276.30" y1="734" x2="1276.30" y2="736.8" stroke="#000" stroke-width="0.9"/>
<text transform="translate(1275.50 743.00) scale(0.892 1)" font-size="7.5" fill="#000" stroke="#000" stroke-width="0.18" >26 Sep 16:00</text>
<line x1="1321.92" y1="734" x2="1321.92" y2="736.8" stroke="#000" stroke-width="0.9"/>
<text transform="translate(1321.12 743.00) scale(0.892 1)" font-size="7.5" fill="#000" stroke="#000" stroke-width="0.18" >27 Sep 08:00</text>
<line x1="1367.55" y1="734" x2="1367.55" y2="736.8" stroke="#000" stroke-width="0.9"/>
<text transform="translate(1366.75 743.00) scale(0.892 1)" font-size="7.5" fill="#000" stroke="#000" stroke-width="0.18" >28 Sep 00:00</text>
<line x1="1413.17" y1="734" x2="1413.17" y2="736.8" stroke="#000" stroke-width="0.9"/>
<text transform="translate(1412.38 743.00) scale(0.892 1)" font-size="7.5" fill="#000" stroke="#000" stroke-width="0.18" >28 Sep 16:00</text>
<line x1="1458.80" y1="734" x2="1458.80" y2="736.8" stroke="#000" stroke-width="0.9"/>
<text transform="translate(1458.00 743.00) scale(0.892 1)" font-size="7.5" fill="#000" stroke="#000" stroke-width="0.18" >29 Sep 08:00</text>
<line x1="1504.42" y1="734" x2="1504.42" y2="736.8" stroke="#000" stroke-width="0.9"/>
<text transform="translate(1503.62 743.00) scale(0.892 1)" font-size="7.5" fill="#000" stroke="#000" stroke-width="0.18" >2 Oct 00:00</text>
<path d="M0.9 4.1 L5.7 4.1 L3.3 7.0 Z" fill="#000"/>
<text transform="translate(9.80 7.80) scale(0.887 1)" font-size="7.5" fill="#000" stroke="#000" stroke-width="0.18" xml:space="preserve">GBPUSD,H4  1.21871 1.21879 1.21482 1.21563</text>
<text transform="translate(0.0 732.8) scale(0.93 1)" font-size="16.7" font-weight="bold" style="font-family:'DejaVu Sans',sans-serif" fill="#000">©</text>
<text transform="translate(18.25 731.0) scale(0.891 1)" font-size="13.7" font-weight="bold" style="font-family:'DejaVu Sans',sans-serif" fill="#000">ForexMT4Indicators.com</text>
</svg></body></html>
